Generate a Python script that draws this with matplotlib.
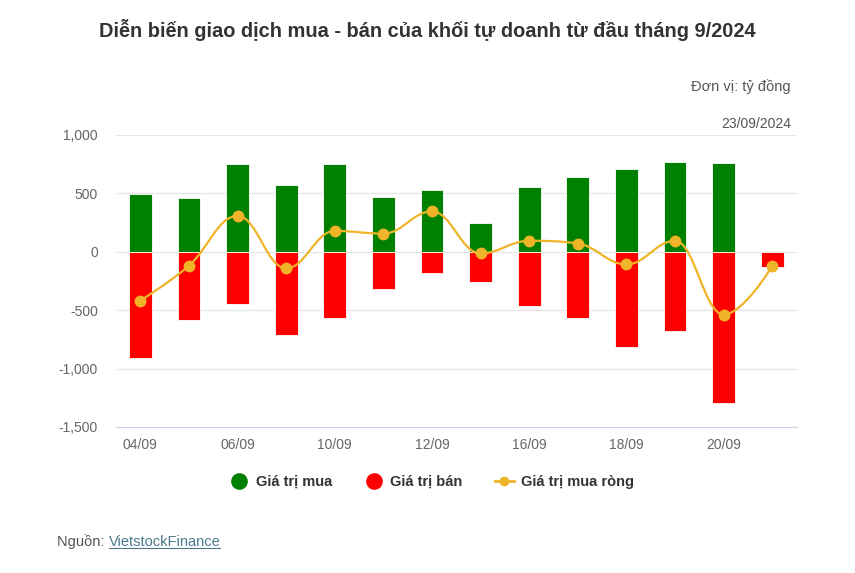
import matplotlib
matplotlib.use('Agg')
import matplotlib.pyplot as plt
from matplotlib.path import Path
from matplotlib.patches import PathPatch
from matplotlib.lines import Line2D
import numpy as np

plt.rcParams['font.family'] = ['Liberation Sans', 'DejaVu Sans']

# data (ty dong)
dates = ['04/09', '05/09', '06/09', '09/09', '10/09', '11/09', '12/09',
         '13/09', '16/09', '17/09', '18/09', '19/09', '20/09', '23/09']
buy = [494, 463, 750, 568, 750, 471, 525, 247, 557, 642, 707, 770, 758, 8]
sell = [-912, -582, -443, -710, -571, -315, -179, -261, -463, -571, -815, -676, -1295, -131]
net = [-418, -119, 307, -142, 179, 156, 346, -14, 94, 71, -108, 94, -537, -123]

GREEN = '#008000'
RED = '#ff0000'
GOLD = '#f0b429'


def spline_path(xs, ys, smoothing=1.5):
    # highcharts-like spline: cubic bezier with smoothed control points
    n = len(xs)
    denom = smoothing + 1
    lc = [None] * n
    rc = [None] * n
    for i in range(n):
        px, py = xs[i], ys[i]
        if i == 0 or i == n - 1:
            lc[i] = (px, py)
            rc[i] = (px, py)
            continue
        lx, ly = xs[i - 1], ys[i - 1]
        nx, ny = xs[i + 1], ys[i + 1]
        lcx = (smoothing * px + lx) / denom
        lcy = (smoothing * py + ly) / denom
        rcx = (smoothing * px + nx) / denom
        rcy = (smoothing * py + ny) / denom
        corr = ((rcy - lcy) * (rcx - px)) / (rcx - lcx) + py - rcy
        lcy += corr
        rcy += corr
        if lcy > ly and lcy > py:
            lcy = max(ly, py); rcy = 2 * py - lcy
        elif lcy < ly and lcy < py:
            lcy = min(ly, py); rcy = 2 * py - lcy
        if rcy > ny and rcy > py:
            rcy = max(ny, py); lcy = 2 * py - rcy
        elif rcy < ny and rcy < py:
            rcy = min(ny, py); lcy = 2 * py - rcy
        lc[i] = (lcx, lcy)
        rc[i] = (rcx, rcy)
    verts = [(xs[0], ys[0])]
    codes = [Path.MOVETO]
    for i in range(1, n):
        verts += [rc[i - 1], lc[i], (xs[i], ys[i])]
        codes += [Path.CURVE4] * 3
    return Path(verts, codes)


fig = plt.figure(figsize=(8.55, 5.73), dpi=100)
ax = fig.add_axes([0.1357, 0.2548, 0.7959, 0.5096])

x = np.arange(len(dates))
ax.bar(x, buy, width=0.47, color=GREEN, edgecolor='white', linewidth=0.6, zorder=2)
ax.bar(x, sell, width=0.47, color=RED, edgecolor='white', linewidth=0.6, zorder=2)

ax.add_patch(PathPatch(spline_path(list(x), net), fill=False, edgecolor=GOLD,
                       linewidth=1.6, zorder=3))
ax.plot(x, net, 'o', color=GOLD, markersize=7.5, zorder=4)

ax.set_xlim(-0.5, len(dates) - 0.5)
ax.set_ylim(-1500, 1000)
ax.set_yticks([-1500, -1000, -500, 0, 500, 1000])
ax.set_yticklabels(['-1,500', '-1,000', '-500', '0', '500', '1,000'])
ax.set_xticks(x[::2])
ax.set_xticklabels(dates[::2])
ax.grid(axis='y', color='#e6e6e6', linewidth=1, zorder=0)
ax.set_axisbelow(True)
for s in ['top', 'right', 'left']:
    ax.spines[s].set_visible(False)
ax.spines['bottom'].set_color('#ccd6eb')
ax.tick_params(axis='y', length=0, labelsize=10, labelcolor='#666666', pad=13)
ax.tick_params(axis='x', length=0, labelsize=10, labelcolor='#666666', pad=8)

fig.text(0.5, 1 - 30 / 573, 'Diễn biến giao dịch mua - bán của khối tự doanh từ đầu tháng 9/2024',
         ha='center', va='center', fontsize=14.4, fontweight='bold', color='#333333')
fig.text(791 / 855, 1 - 87 / 573, 'Đơn vị: tỷ đồng', ha='right', va='center',
         fontsize=10.5, color='#555555')
fig.text(791 / 855, 1 - 124 / 573, '23/09/2024', ha='right', va='center',
         fontsize=10, color='#555555')

handles = [
    Line2D([], [], marker='o', linestyle='none', color=GREEN, markersize=11),
    Line2D([], [], marker='o', linestyle='none', color=RED, markersize=11),
    Line2D([], [], marker='o', color=GOLD, markersize=6, linewidth=2),
]
leg = fig.legend(handles, ['Giá trị mua', 'Giá trị bán', 'Giá trị mua ròng'],
                 loc='center', bbox_to_anchor=(0.505, 1 - 482 / 573), ncol=3,
                 frameon=False, handlelength=1.3, handletextpad=0.5, columnspacing=2.2,
                 prop={'size': 10.5, 'weight': 'bold'})
for t in leg.get_texts():
    t.set_color('#333333')

src = fig.text(57 / 855, 1 - 542 / 573, 'Nguồn: ', ha='left', va='center',
               fontsize=10.5, color='#555555')
fig.canvas.draw()
bb = src.get_window_extent().transformed(fig.transFigure.inverted())
link = fig.text(bb.x1, 1 - 542 / 573, 'VietstockFinance', ha='left', va='center',
                fontsize=10.5, color='#4a7a8c')
fig.canvas.draw()
lb = link.get_window_extent().transformed(fig.transFigure.inverted())
fig.add_artist(Line2D([lb.x0, lb.x1], [lb.y0 + 0.002, lb.y0 + 0.002],
                      transform=fig.transFigure, color='#4a7a8c', linewidth=0.8))

fig.savefig('out.png', dpi=100, facecolor='white')
